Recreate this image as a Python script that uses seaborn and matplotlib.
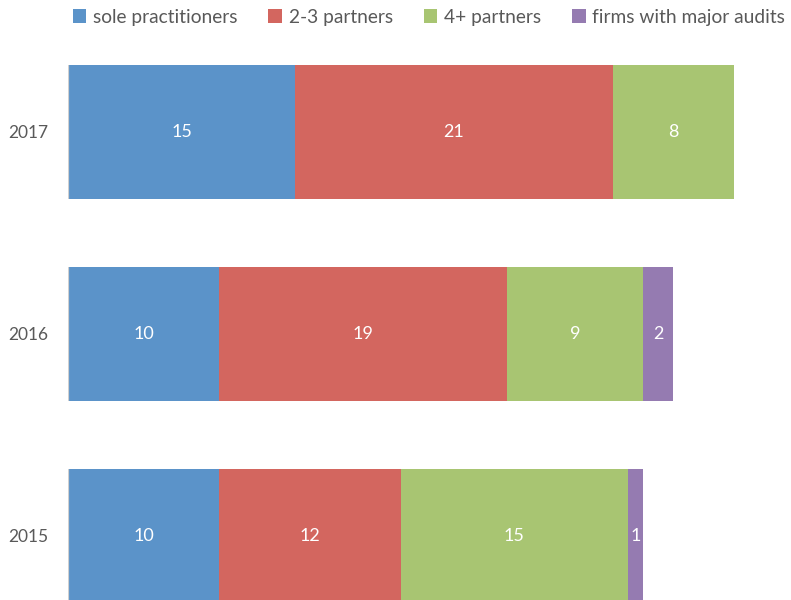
import matplotlib
matplotlib.use("Agg")
import matplotlib.pyplot as plt
import seaborn as sns
import numpy as np
import pandas as pd

years = ["2017", "2016", "2015"]
series_names = ["sole practitioners", "2-3 partners", "4+ partners", "firms with major audits"]
sole = [15, 10, 10]
two_three = [21, 19, 12]
four_plus = [8, 9, 15]
major = [0, 2, 1]
colors = ["#5B93C9", "#D3665F", "#A8C572", "#957BB1"]

sns.set_theme(style="white")
plt.rcParams["font.family"] = ["Lato", "DejaVu Sans"]

vals = np.array([sole, two_three, four_plus, major], dtype=float)
cum = np.cumsum(vals, axis=0)

fig = plt.figure(figsize=(7.91, 6.0), dpi=100)
ax = fig.add_axes([68 / 791, 0, 723 / 791, 1])

# draw cumulative bars from the longest to the shortest so they stack visually
for i in range(3, -1, -1):
    df = pd.DataFrame({"year": years, "value": cum[i]})
    sns.barplot(data=df, x="value", y="year", order=years, orient="h",
                color=colors[i], saturation=1, width=0.663, linewidth=0,
                label=series_names[i], ax=ax)

# labels at segment centers
for i in range(4):
    for j, y in enumerate(years):
        v = vals[i, j]
        if v > 0:
            mid = cum[i, j] - v / 2
            ax.text(mid, j, f"{int(v)}", ha="center", va="center",
                    color="white", fontsize=13)

# thin grey axis strip alongside each bar
for p in ax.patches[:3]:
    ax.vlines(0, p.get_y(), p.get_y() + p.get_height(), color="#D0D0D0", lw=1.6, zorder=5)

ax.set_xlim(0, 723 / 15.13)
ax.set_ylim(2.317, -0.653)
ax.set_xlabel("")
ax.set_ylabel("")
ax.set_xticks([])
ax.tick_params(axis="y", length=0, labelsize=12.5, labelcolor="#595959", pad=14)
for s in ax.spines.values():
    s.set_visible(False)
if ax.get_legend() is not None:
    ax.get_legend().remove()

handles, labels = ax.get_legend_handles_labels()
order = [labels.index(n) for n in series_names]
fig.legend([handles[k] for k in order], [labels[k] for k in order],
           loc="center", bbox_to_anchor=(429 / 791, 1 - 17 / 600), ncol=4,
           frameon=False, fontsize=13.8, labelcolor="#595959",
           handlelength=0.72, handleheight=0.72, handletextpad=0.35,
           columnspacing=1.6, borderaxespad=0, borderpad=0)

fig.savefig("out.png", dpi=100)
